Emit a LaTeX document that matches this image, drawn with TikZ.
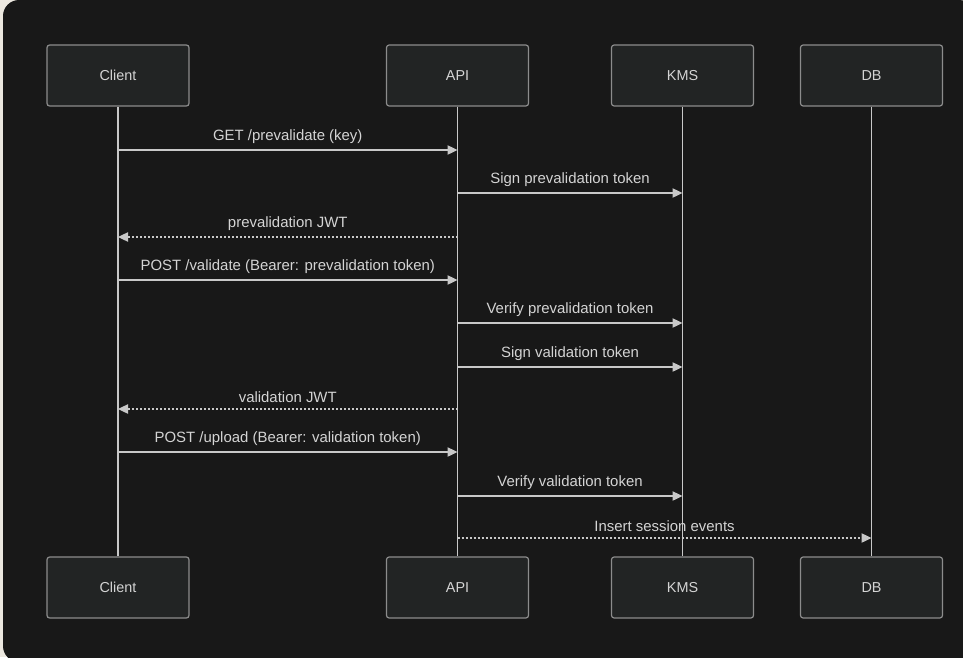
\documentclass[tikz,border=0pt]{standalone}
\usepackage{fontspec}
\setmainfont{Liberation Sans}
\usetikzlibrary{arrows.meta}
\definecolor{outer}{HTML}{ECE8E0}
\definecolor{panel}{HTML}{181818}
\definecolor{boxf}{HTML}{222424}
\definecolor{boxd}{HTML}{8C8C8C}
\definecolor{txt}{HTML}{D4D4D4}
\definecolor{ln}{HTML}{C8C8C8}
\begin{document}
\begin{tikzpicture}[x=0.75pt,y=-0.75pt,
  actor/.style={draw=boxd,fill=boxf,line width=0.9pt,rounded corners=2pt,minimum width=106.5pt,minimum height=45.75pt,text=txt,font=\fontsize{10.8}{13}\selectfont,inner sep=0pt},
  life/.style={ln,line width=1.2pt},
  msg/.style={ln,line width=0.9pt,-{Triangle[length=7.5pt,width=7pt]}},
  ret/.style={msg,dash pattern=on 1.5pt off 1.5pt},
  lab/.style={text=txt,font=\fontsize{11.2}{13}\selectfont,above=3pt,inner sep=1pt}]
\useasboundingbox (0,0) rectangle (963,657);
\fill[outer] (0,0) rectangle (963,657);
\fill[panel,rounded corners=12pt] (3,0) rectangle (975,662);
\node[actor] (c1) at (118,75.5) {Client};
\node[actor] (a1) at (457.5,75.5) {API};
\node[actor] (k1) at (682.5,75.5) {KMS};
\node[actor] (d1) at (871.5,75.5) {DB};
\node[actor] (c2) at (118,587.5) {Client};
\node[actor] (a2) at (457.5,587.5) {API};
\node[actor] (k2) at (682.5,587.5) {KMS};
\node[actor] (d2) at (871.5,587.5) {DB};
\draw[life] (c1) -- (c2);
\draw[life] (a1) -- (a2);
\draw[life] (k1) -- (k2);
\draw[life] (d1) -- (d2);
\foreach \y/\f/\t/\s/\l in {
 150/c1/a1/msg/{GET /prevalidate (key)},
 193/a1/k1/msg/{Sign prevalidation token},
 237/a1/c1/ret/{prevalidation JWT},
 280/c1/a1/msg/{POST /validate (Bearer: prevalidation token)},
 323/a1/k1/msg/{Verify prevalidation token},
 367/a1/k1/msg/{Sign validation token},
 409/a1/c1/ret/{validation JWT},
 452/c1/a1/msg/{POST /upload (Bearer: validation token)},
 496/a1/k1/msg/{Verify validation token},
 538/a1/d1/ret/{Insert session events}}{
  \coordinate (s) at (\f.center |- 0,\y);
  \coordinate (e) at (\t.center |- 0,\y);
  \draw[\s] (s) -- node[lab]{\l} (e);
}
\end{tikzpicture}
\end{document}
